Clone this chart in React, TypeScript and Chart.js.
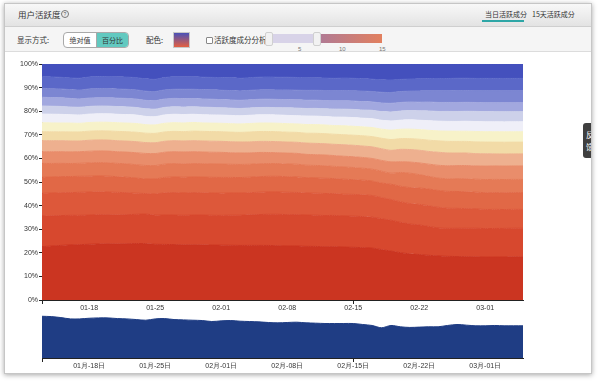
import React, { useEffect, useRef } from "react";
import { Chart, registerables } from "chart.js";
Chart.register(...registerables);

// ---------- data ----------
const dates = [
  "01-13","01-14","01-15","01-16","01-17","01-18","01-19","01-20","01-21","01-22",
  "01-23","01-24","01-25","01-26","01-27","01-28","01-29","01-30","01-31","02-01",
  "02-02","02-03","02-04","02-05","02-06","02-07","02-08","02-09","02-10","02-11",
  "02-12","02-13","02-14","02-15","02-16","02-17","02-18","02-19","02-20","02-21",
  "02-22","02-23","02-24","02-25","02-26","02-27","02-28","03-01","03-02","03-03",
  "03-04","03-05",
];
const weekTicks = ["01-18", "01-25", "02-01", "02-08", "02-15", "02-22", "03-01"];
const navTickLabels = ["01月-18日", "01月-25日", "02月-01日", "02月-08日", "02月-15日", "02月-22日", "03月-01日"];

const bandNames = ["1天","2天","3天","4天","5天","6天","7天","8天","9天","10天","11天","12天","13天","14天","15天"];
const bandColors = [
  "#cb3521", "#d7482e", "#dd583a", "#e16846", "#e57a56", "#e98d6b", "#eeb08f",
  "#f2dba7", "#f7f2c9", "#efeff8", "#cdd1ea", "#a2a8df", "#7c86d2", "#5b68c8", "#4450bd",
];

const band01 = [22.6,23.0,23.4,23.7,23.8,23.9,24.0,24.0,24.0,24.0,24.0,23.9,23.7,23.8,23.7,23.6,23.6,23.5,23.4,23.4,23.3,23.3,23.2,23.2,23.1,23.0,22.9,22.9,22.8,22.8,22.7,22.7,22.6,22.5,22.4,22.3,21.6,20.8,20.3,19.9,19.4,19.0,18.6,18.4,18.3,18.3,18.3,18.2,18.2,18.2,18.3,18.3];
const band02 = [13.0,12.9,12.8,12.7,12.6,12.5,12.5,12.4,12.4,12.4,12.4,12.5,12.4,12.6,12.6,12.6,12.7,12.7,12.7,12.7,12.8,12.9,13.0,13.1,13.2,13.3,13.3,13.3,13.3,13.3,13.3,13.3,13.3,13.3,13.3,13.3,13.2,13.1,13.0,12.9,12.6,12.3,11.8,11.8,11.9,12.0,12.1,12.1,12.1,12.1,12.1,12.1];
const band03 = [9.6,9.7,9.8,9.8,9.9,9.9,9.8,9.7,9.6,9.4,9.0,8.7,9.0,9.5,9.6,9.6,9.6,9.5,9.5,9.5,9.5,9.5,9.4,9.5,9.5,9.5,9.5,9.4,9.4,9.4,9.4,9.3,9.3,9.3,9.3,9.3,9.1,8.8,8.8,8.8,8.8,8.8,8.7,8.5,8.4,8.3,8.2,8.1,8.1,8.0,8.0,8.0];
const band04 = [6.8,6.8,6.9,6.9,6.9,6.8,6.8,6.8,6.7,6.6,6.4,6.2,6.4,6.6,6.7,6.7,6.7,6.7,6.7,6.7,6.6,6.6,6.6,6.6,6.6,6.6,6.6,6.6,6.5,6.5,6.5,6.4,6.4,6.3,6.3,6.2,6.2,6.5,6.7,6.9,7.0,7.1,7.1,7.1,7.1,7.1,7.1,7.1,7.1,7.1,7.1,7.1];
const band05 = [5.9,5.8,5.7,5.6,5.6,5.7,5.7,5.7,5.7,5.7,5.7,5.7,5.7,5.7,5.7,5.7,5.7,5.7,5.7,5.7,5.6,5.6,5.5,5.5,5.4,5.4,5.4,5.4,5.3,5.3,5.3,5.2,5.2,5.2,5.1,5.1,5.1,4.7,5.9,6.2,5.7,5.4,5.2,5.3,5.4,5.5,5.5,5.6,5.6,5.6,5.6,5.6];
const band06 = [4.9,5.0,5.0,5.0,5.0,5.0,5.0,5.0,5.0,5.0,5.1,5.1,5.1,5.1,5.1,5.1,5.1,5.0,5.0,5.0,4.9,4.9,4.8,4.8,4.7,4.6,4.6,4.6,4.6,4.6,4.6,4.6,4.6,4.6,4.6,4.6,4.6,4.8,4.6,4.8,5.0,5.2,5.4,5.5,5.5,5.6,5.6,5.7,5.7,5.7,5.7,5.7];
const band07 = [4.7,4.7,4.7,4.7,4.6,4.7,4.7,4.7,4.7,4.7,4.7,4.6,4.6,4.7,4.7,4.7,4.7,4.7,4.7,4.7,4.7,4.7,4.7,4.7,4.7,4.7,4.7,4.7,4.8,4.8,4.8,4.8,4.9,4.9,4.9,5.0,5.0,4.9,5.3,5.4,5.4,5.4,5.5,5.4,5.3,5.3,5.2,5.2,5.1,5.1,5.1,5.1];
const band08 = [3.8,3.8,3.8,3.9,3.9,3.9,3.9,3.9,4.0,4.0,4.0,4.0,4.0,4.0,4.0,4.0,4.1,4.1,4.1,4.1,4.1,4.1,4.2,4.2,4.2,4.2,4.2,4.2,4.2,4.3,4.3,4.3,4.3,4.3,4.4,4.4,4.5,4.6,4.6,4.7,4.7,4.8,4.8,4.9,4.9,4.9,5.0,5.0,5.0,5.0,5.0,5.0];
const band09 = [3.8,3.8,3.8,3.8,3.7,3.7,3.7,3.7,3.7,3.7,3.7,3.6,3.6,3.7,3.7,3.7,3.7,3.6,3.6,3.6,3.6,3.6,3.6,3.6,3.6,3.6,3.6,3.6,3.7,3.7,3.7,3.7,3.8,3.8,3.8,3.9,3.9,4.0,4.0,4.1,4.1,4.2,4.2,4.3,4.3,4.3,4.4,4.4,4.4,4.4,4.4,4.4];
const band10 = [3.7,3.7,3.7,3.6,3.6,3.6,3.6,3.6,3.6,3.6,3.6,3.5,3.5,3.6,3.6,3.6,3.5,3.5,3.5,3.5,3.5,3.5,3.5,3.5,3.5,3.5,3.5,3.5,3.6,3.6,3.6,3.6,3.7,3.7,3.7,3.8,3.8,3.9,3.9,4.0,4.0,4.1,4.1,4.1,4.1,4.2,4.2,4.2,4.2,4.2,4.2,4.2];
const band11 = [3.4,3.4,3.4,3.3,3.3,3.3,3.3,3.3,3.3,3.3,3.2,3.2,3.2,3.2,3.2,3.2,3.2,3.2,3.2,3.1,3.1,3.1,3.1,3.1,3.1,3.1,3.2,3.2,3.2,3.3,3.3,3.4,3.4,3.5,3.5,3.6,3.7,3.8,3.9,4.0,4.0,4.1,4.1,4.2,4.2,4.2,4.3,4.3,4.3,4.3,4.3,4.3];
const band12 = [3.7,3.7,3.7,3.7,3.6,3.6,3.6,3.6,3.6,3.6,3.6,3.6,3.6,3.6,3.6,3.6,3.5,3.5,3.5,3.5,3.5,3.5,3.5,3.5,3.5,3.5,3.5,3.5,3.5,3.5,3.5,3.5,3.6,3.6,3.6,3.6,3.7,3.7,3.7,3.7,3.7,3.8,3.8,3.8,3.8,3.8,3.8,3.8,3.8,3.8,3.8,3.8];
const band13 = [3.8,3.8,3.8,3.8,3.8,3.9,3.9,3.9,3.9,3.9,3.9,3.9,3.9,3.9,3.9,4.0,4.0,4.0,4.0,4.0,4.0,4.0,4.0,4.0,4.0,4.0,4.1,4.1,4.2,4.2,4.3,4.3,4.4,4.4,4.5,4.5,4.6,4.6,4.7,4.7,4.8,4.8,4.9,4.9,5.0,5.0,5.0,5.1,5.1,5.1,5.1,5.1];
const band14 = [4.9,5.0,5.0,5.0,5.1,5.1,5.1,5.1,5.2,5.2,5.2,5.2,5.2,5.3,5.3,5.3,5.3,5.3,5.3,5.4,5.4,5.4,5.4,5.4,5.4,5.4,5.4,5.4,5.4,5.3,5.3,5.3,5.3,5.3,5.3,5.3,5.3,5.3,5.2,5.2,5.2,5.2,5.2,5.2,5.2,5.2,5.2,5.2,5.2,5.2,5.2,5.2];
const band15 = [5.4,5.5,5.7,6.0,6.1,5.6,5.4,5.4,5.5,5.6,5.8,6.3,6.5,5.8,5.5,5.5,5.5,5.6,5.7,5.8,5.9,6.1,5.8,5.6,5.5,5.6,5.6,5.7,5.8,5.9,6.0,6.1,6.0,6.1,6.3,6.5,6.8,6.8,6.6,6.5,6.3,6.2,6.1,6.1,6.0,6.0,6.1,6.1,6.1,6.1,6.1,6.1];

const totalUsers = [127,126,123,119,119,121,122,122,120,119,117,115,119,120,117,116,115,114,111,113,114,112,111,110,108,107,108,109,107,106,105,105,105,105,102,99,92,99,95,93,94,95,95,99,102,100,98,98,99,98,98,98];

// ---------- helpers ----------
const tickFont = { family: "'Liberation Sans', Arial, Helvetica, sans-serif", size: 7 };
const cjk = "'Noto Sans CJK SC', 'Noto Sans', sans-serif";
const lastIdx = dates.length - 1;
const isShownTick = (i: number) => weekTicks.includes(dates[i]) || i === 0 || i === lastIdx;

function MainChart() {
  const ref = useRef<HTMLCanvasElement | null>(null);
  useEffect(() => {
    const bands = [band01, band02, band03, band04, band05, band06, band07, band08, band09, band10, band11, band12, band13, band14, band15];
    const sums = dates.map((_, i) => bands.reduce((s, b) => s + b[i], 0));
    const pct = bands.map((b) => b.map((v, i) => (v / sums[i]) * 100));
    const chart = new Chart(ref.current!, {
      type: "line",
      data: {
        labels: dates,
        datasets: pct.map((d, k) => ({
          label: bandNames[k],
          data: d,
          backgroundColor: bandColors[k],
          borderColor: bandColors[k],
          borderWidth: 1,
          pointRadius: 0,
          tension: 0.25,
          fill: k === 0 ? "origin" : "-1",
        })),
      },
      options: {
        animation: false,
        responsive: false,
        maintainAspectRatio: false,
        layout: { padding: { left: 8, right: 37, top: 8, bottom: 0 } },
        plugins: { legend: { display: false }, tooltip: { enabled: false } },
        scales: {
          x: {
            z: 1,
            grid: {
              drawOnChartArea: false,
              drawTicks: true,
              tickLength: 4,
              tickColor: (c: any) => (isShownTick(c.index) ? "#222" : "rgba(0,0,0,0)"),
            },
            border: { display: true, color: "#222", width: 1 },
            ticks: {
              autoSkip: false,
              maxRotation: 0,
              padding: 0,
              font: tickFont,
              color: "#333",
              callback: (_v: any, i: number) => (weekTicks.includes(dates[i]) ? dates[i] : isShownTick(i) ? "" : null),
            },
            afterFit: (s: any) => { s.height = 18; },
          },
          y: {
            z: 1,
            stacked: true,
            min: 0,
            max: 100,
            grid: { drawOnChartArea: false, tickLength: 3, tickColor: "#222" },
            border: { display: true, color: "#222", width: 1 },
            ticks: { stepSize: 10, padding: 1, font: tickFont, color: "#333", callback: (v: any) => v + "%" },
            afterFit: (s: any) => { s.width = 34; },
          },
        },
      },
    });
    return () => chart.destroy();
  }, []);
  return (
    <canvas ref={ref} width={560} height={262}
      style={{ position: "absolute", left: 0, top: 56, width: 560, height: 262 }} />
  );
}

function NavChart() {
  const ref = useRef<HTMLCanvasElement | null>(null);
  useEffect(() => {
    const chart = new Chart(ref.current!, {
      type: "line",
      data: {
        labels: dates,
        datasets: [{
          label: "总用户",
          data: totalUsers,
          backgroundColor: "#1f3d84",
          borderColor: "#1f3d84",
          borderWidth: 1,
          pointRadius: 0,
          tension: 0.3,
          fill: "origin",
        }],
      },
      options: {
        animation: false,
        responsive: false,
        maintainAspectRatio: false,
        layout: { padding: { left: 42, right: 37, top: 2, bottom: 0 } },
        plugins: { legend: { display: false }, tooltip: { enabled: false } },
        scales: {
          x: {
            z: 1,
            grid: {
              drawOnChartArea: false,
              tickLength: 4,
              tickColor: (c: any) => (isShownTick(c.index) ? "#222" : "rgba(0,0,0,0)"),
            },
            border: { display: true, color: "#222", width: 1 },
            ticks: {
              autoSkip: false,
              maxRotation: 0,
              padding: 0,
              font: tickFont,
              color: "#333",
              callback: (_v: any, i: number) => {
                const w = weekTicks.indexOf(dates[i]);
                return w >= 0 ? navTickLabels[w] : isShownTick(i) ? "" : null;
              },
            },
            afterFit: (s: any) => { s.height = 18; },
          },
          y: { display: false, min: 0, max: 140 },
        },
      },
    });
    return () => chart.destroy();
  }, []);
  return (
    <canvas ref={ref} width={560} height={66}
      style={{ position: "absolute", left: 0, top: 310, width: 560, height: 66 }} />
  );
}

const txt = (x: number, y: number, s: string, extra: any = {}) => (
  <div style={{ position: "absolute", left: x, top: y, fontFamily: cjk, fontSize: 8, lineHeight: "10px", color: "#333", whiteSpace: "nowrap", ...extra }}>{s}</div>
);

export default function App() {
  return (
    <div style={{ position: "absolute", left: 0, top: 0, width: 600, height: 382, background: "#fff", overflow: "hidden" }}>
      {/* panel */}
      <div style={{ position: "absolute", left: 4, top: 3, width: 586, height: 369, border: "1px solid #c6c6c6", boxShadow: "0 1px 5px rgba(0,0,0,0.35)", background: "#fff" }} />
      {/* header */}
      <div style={{ position: "absolute", left: 5, top: 4, width: 586, height: 22, background: "linear-gradient(#f8f8f8, #e3e3e3)", borderBottom: "1px solid #cfcfcf" }} />
      {/* toolbar */}
      <div style={{ position: "absolute", left: 5, top: 27, width: 586, height: 24, background: "#f5f5f5", borderBottom: "1px solid #dcdcdc" }} />

      <MainChart />
      <NavChart />

      {txt(18, 9, "用户活跃度", { fontSize: 8.5 })}
      <div style={{ position: "absolute", left: 61, top: 10, width: 6, height: 6, border: "1px solid #777", borderRadius: "50%", fontSize: 5, lineHeight: "6px", textAlign: "center", color: "#555", fontFamily: "Arial, sans-serif" }}>?</div>

      {txt(485, 9, "当日活跃成分", { fontSize: 7 })}
      <div style={{ position: "absolute", left: 482, top: 20, width: 42, height: 2, background: "#2ea6a6" }} />
      {txt(532, 9, "15天活跃成分", { fontSize: 7 })}

      {txt(17, 35, "显示方式:", { fontSize: 7.5 })}
      <div style={{ position: "absolute", left: 63, top: 32, width: 64, height: 14, border: "1px solid #a9a9a9", borderRadius: 4, overflow: "hidden", display: "flex", background: "#fff" }}>
        <div style={{ width: 32, height: 14, fontFamily: cjk, fontSize: 7, lineHeight: "14px", textAlign: "center", color: "#333", borderRight: "1px solid #a9a9a9" }}>绝对值</div>
        <div style={{ flex: 1, height: 14, fontFamily: cjk, fontSize: 7, lineHeight: "14px", textAlign: "center", color: "#333", background: "#62c9c0" }}>百分比</div>
      </div>
      {txt(146, 35, "配色:", { fontSize: 7.5 })}
      <div style={{ position: "absolute", left: 173, top: 32, width: 15, height: 14, border: "1px solid #c8c8c8", background: "linear-gradient(#4a52b8, #e45f40)" }} />
      <div style={{ position: "absolute", left: 206, top: 37, width: 5, height: 5, border: "1px solid #888", borderRadius: 1, background: "#fff" }} />
      {txt(214, 35, "活跃度成分分析", { fontSize: 7.5 })}
      <div style={{ position: "absolute", left: 266, top: 34, width: 52, height: 9, background: "#d8d3e8" }} />
      <div style={{ position: "absolute", left: 320, top: 34, width: 62, height: 9, background: "linear-gradient(to right, #b07a94, #e2805f)" }} />
      <div style={{ position: "absolute", left: 265, top: 32, width: 6, height: 12, background: "#f2f2f2", border: "1px solid #d0d0d0", borderRadius: 2 }} />
      <div style={{ position: "absolute", left: 313, top: 32, width: 6, height: 12, background: "#f2f2f2", border: "1px solid #d0d0d0", borderRadius: 2 }} />
      {txt(298, 44, "5", { fontSize: 6, color: "#777", fontFamily: tickFont.family })}
      {txt(339, 44, "10", { fontSize: 6, color: "#777", fontFamily: tickFont.family })}
      {txt(379, 44, "15", { fontSize: 6, color: "#777", fontFamily: tickFont.family })}

      {/* side tab */}
      <div style={{ position: "absolute", left: 583, top: 123, width: 8, height: 35, background: "#3f3f3f", borderRadius: "3px 0 0 3px", overflow: "hidden" }}>
        <div style={{ position: "absolute", left: 3, top: 6, fontFamily: cjk, fontSize: 8, lineHeight: "12px", color: "#fff", width: 9 }}>反馈</div>
      </div>
    </div>
  );
}
